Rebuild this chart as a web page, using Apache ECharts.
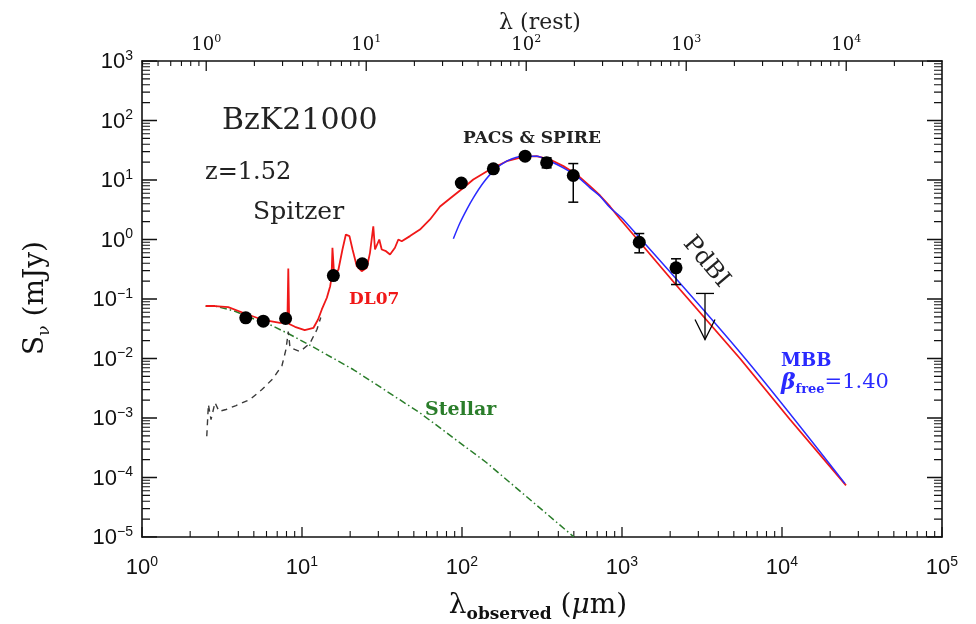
<!DOCTYPE html>
<html>
<head>
<meta charset="utf-8">
<script src="https://cdn.jsdelivr.net/npm/echarts@6/dist/echarts.min.js"></script>
<style>
  html, body { margin: 0; padding: 0; background: #fff; }
  #chart { width: 976px; height: 624px; }
</style>
</head>
<body>
<div id="chart"></div>
<script>
// ---------------- data ----------------
const redshift = 1.52;

// photometry (observed wavelength in micron, flux in mJy)
const photLambda = [4.45, 5.73, 7.9, 15.7, 23.8, 99, 157, 248, 338, 496, 1282, 2176];
const photFlux   = [0.0483, 0.0424, 0.047, 0.248, 0.391, 8.9, 15.4, 25.1, 19.5, 11.9, 0.90, 0.334];

// error bars
const errLambda = [338, 496, 1282, 2176];
const errLow    = [16.0, 4.24, 0.597, 0.175];
const errHigh   = [23.6, 18.9, 1.26, 0.474];

// PdBI upper limit
const limLambda = [3302];
const limFlux   = [0.124];

// DL07 total model (red)
const dl07Lambda = [2.50, 2.86, 3.46, 4.40, 5.60, 7.29, 8.10, 8.21, 8.32, 9.04, 10.4, 11.8, 12.6, 13.3, 14.3, 15.0, 15.3, 15.5, 15.9, 16.9,
  17.9, 18.8, 19.8, 20.7, 22.0, 23.6, 25.4, 26.6, 27.9, 28.6, 30.4, 31.5, 33.5, 35.5, 38.1, 40.0, 42.0, 47.3, 54.6, 63.1,
  72.9, 84.1, 97.2, 117.7, 149.6, 190.3, 241.5, 293, 355, 430, 521, 631, 729, 841, 972, 2304, 5464, 11220, 25120];
const dl07Flux = [0.0762, 0.0762, 0.0728, 0.0571, 0.0452, 0.0398, 0.040, 0.326, 0.038, 0.0341, 0.0299, 0.0328, 0.0452, 0.0667, 0.105, 0.164, 0.230, 0.726, 0.241, 0.313,
  0.679, 1.21, 1.14, 0.679, 0.356, 0.293, 0.334, 0.597, 1.67, 0.679, 1.0, 0.679, 0.636, 0.560, 0.726, 1.0, 0.935, 1.14, 1.47, 2.17,
  3.59, 4.89, 6.66, 10.2, 15.0, 20.7, 24.5, 25.1, 22.1, 17.1, 12.4, 7.87, 5.49, 3.59, 2.21, 0.1445, 0.0100, 0.000944, 0.0000735];

// modified black body (blue)
const mbbLambda = [88.3, 97.2, 107, 117.7, 135.9, 157, 190.3, 241.5, 293, 355, 430, 521, 631, 729, 841, 1019, 5728, 24770];
const mbbFlux   = [1.03, 1.91, 3.19, 5.02, 8.98, 14.1, 20.7, 25.1, 25.1, 20.7, 16.0, 11.6, 7.39, 5.35, 3.45, 2.17, 0.01094, 0.000079];

// stellar component (green dash-dot)
const stellarLambda = [2.50, 2.86, 3.81, 5.09, 6.47, 8.41, 11.5, 20.9, 54.6, 142.6, 501];
const stellarFlux   = [0.0757, 0.0760, 0.0624, 0.0452, 0.0359, 0.0253, 0.0161, 0.00653, 0.00122, 0.000177, 0.00001];

// dust-only component (grey dashed)
const dustLambda = [2.54, 2.60, 2.70, 2.86, 3.03, 3.35, 3.87, 4.73, 5.62, 6.59, 7.50, 7.94, 8.21, 8.41, 9.72, 11.2, 12.4, 13.1];
const dustFlux   = [0.000494, 0.00169, 0.00094, 0.00182, 0.00129, 0.00139, 0.00162, 0.00205, 0.00301, 0.00461, 0.00762, 0.0142, 0.0284, 0.0153, 0.0131, 0.0179, 0.0307, 0.0489];

// axis ticks
const xMajor = [1, 10, 100, 1000, 10000, 100000];
const yMajor = [1e-5, 1e-4, 1e-3, 1e-2, 1e-1, 1, 10, 100, 1000];
const restMajor = [1, 10, 100, 1000, 10000];

// ---------------- helpers ----------------
function minorTicks(loExp, hiExp) {
  const out = [];
  for (let e = loExp; e <= hiExp; e++) {
    for (let k = 2; k <= 9; k++) out.push(parseFloat((k * Math.pow(10, e)).toPrecision(6)));
  }
  return out;
}
const xMin = 1, xMax = 1e5, yMin = 1e-5, yMax = 1e3;
const xMinor = minorTicks(0, 4);
const yMinor = minorTicks(-5, 2);
const opz = 1 + redshift;
const topMajor = restMajor.map(v => v * opz);
const topMinor = minorTicks(-1, 4).map(v => v * opz).filter(v => v > xMin && v < xMax);

function pair(a, b) { return a.map((v, i) => [v, b[i]]); }
function supLabel(exp) {
  const s = exp < 0 ? '\u2212' + Math.abs(exp) : String(exp);
  return '{b|10}{s|' + s + '}';
}

const SANS = "'Liberation Sans', Arial, sans-serif";
const SERIF = "'DejaVu Serif', serif";
const BLACK = '#111';

// grid geometry (pixels) and the resulting pixels per decade, used only to express tick lengths
const GRID = { left: 142, right: 34, top: 61, bottom: 87 };
const pxPerDecX = (976 - GRID.left - GRID.right) / Math.log10(xMax / xMin);
const pxPerDecY = (624 - GRID.top - GRID.bottom) / Math.log10(yMax / yMin);
const TICK = { xMajor: 10, xMinor: 6, topMajor: 10, topMinor: 5, yMajor: 15, yMinor: 8 };

const richSans = {
  b: { fontSize: 22, fontFamily: SANS, color: BLACK, lineHeight: 24, verticalAlign: 'bottom' },
  s: { fontSize: 14, fontFamily: SANS, color: BLACK, lineHeight: 14, verticalAlign: 'top' }
};
const richTop = {
  b: { fontSize: 18, fontFamily: SERIF, color: BLACK, lineHeight: 20, verticalAlign: 'bottom' },
  s: { fontSize: 11, fontFamily: SERIF, color: BLACK, lineHeight: 11, verticalAlign: 'top' }
};

function logAxis(extra) {
  return Object.assign({
    type: 'log', logBase: 10, splitLine: { show: false }, minorTick: { show: false },
    axisTick: { show: false }
  }, extra);
}

const xAxes = [
  logAxis({ position: 'bottom', min: xMin, max: xMax,
    axisLine: { show: true, lineStyle: { color: BLACK, width: 1.6 } },
    axisLabel: { show: true, customValues: xMajor, margin: 18, formatter: v => supLabel(Math.round(Math.log10(v))), rich: richSans }
  }),
  logAxis({ position: 'top', min: xMin, max: xMax,
    axisLine: { show: true, lineStyle: { color: BLACK, width: 1.6 } },
    axisLabel: { show: true, customValues: topMajor, margin: 7, formatter: v => supLabel(Math.round(Math.log10(v / opz))), rich: richTop }
  })
];

const yAxes = [
  logAxis({ position: 'left', min: yMin, max: yMax,
    axisLine: { show: true, lineStyle: { color: BLACK, width: 1.6 } },
    axisLabel: { show: true, customValues: yMajor, margin: 9, formatter: v => supLabel(Math.round(Math.log10(v))), rich: richSans }
  }),
  logAxis({ position: 'right', min: yMin, max: yMax,
    axisLine: { show: true, lineStyle: { color: BLACK, width: 1.6 } },
    axisLabel: { show: false }
  })
];

// ---- tick marks as broken line series in data space (one short segment per tick value) ----
const GAP = ['-', '-'];
function xTickData(values, lenPx, atTop) {
  const f = Math.pow(10, lenPx / pxPerDecY);
  const out = [];
  values.forEach(v => {
    if (atTop) out.push([v, yMax / f], [v, yMax], GAP);
    else out.push([v, yMin], [v, yMin * f], GAP);
  });
  return out;
}
function yTickData(values, lenPx) {
  const f = Math.pow(10, lenPx / pxPerDecX);
  const out = [];
  values.forEach(v => { out.push([xMin, v], [xMin * f, v], GAP, [xMax / f, v], [xMax, v], GAP); });
  return out;
}
function tickLine(name, data, width) {
  return { type: 'line', name: name, xAxisIndex: 0, yAxisIndex: 0, data: data, connectNulls: false,
    showSymbol: false, symbol: 'none', smooth: false, silent: true, animation: false, z: 1,
    lineStyle: { color: BLACK, width: width, type: 'solid' } };
}

const lineBase = { type: 'line', xAxisIndex: 0, yAxisIndex: 0, showSymbol: false, symbol: 'none', smooth: false, silent: true, animation: false };

const series = [
  tickLine('xMajorTicks', xTickData(xMajor, TICK.xMajor, false), 1.3),
  tickLine('xMinorTicks', xTickData(xMinor, TICK.xMinor, false), 1.1),
  tickLine('topMajorTicks', xTickData(topMajor, TICK.topMajor, true), 1.3),
  tickLine('topMinorTicks', xTickData(topMinor, TICK.topMinor, true), 1.1),
  tickLine('yMajorTicks', yTickData(yMajor, TICK.yMajor), 1.3),
  tickLine('yMinorTicks', yTickData(yMinor, TICK.yMinor), 1.1),
  Object.assign({}, lineBase, { name: 'Stellar', data: pair(stellarLambda, stellarFlux), z: 2,
    lineStyle: { color: '#2a7d2a', width: 1.5, type: [7, 3, 1.5, 3] } }),
  Object.assign({}, lineBase, { name: 'Dust', data: pair(dustLambda, dustFlux), z: 2,
    lineStyle: { color: '#3a3a3a', width: 1.4, type: [6, 5] } }),
  Object.assign({}, lineBase, { name: 'DL07', data: pair(dl07Lambda, dl07Flux), z: 3,
    lineStyle: { color: '#f01818', width: 1.8 } }),
  Object.assign({}, lineBase, { name: 'MBB', data: pair(mbbLambda, mbbFlux), z: 4, smooth: 0.3,
    lineStyle: { color: '#2a2aff', width: 1.5 } }),
  { type: 'scatter', name: 'phot', xAxisIndex: 0, yAxisIndex: 0, data: pair(photLambda, photFlux), z: 6,
    symbol: 'circle', symbolSize: 13, itemStyle: { color: '#000', opacity: 1 }, silent: true, animation: false },
  { type: 'custom', name: 'err', xAxisIndex: 0, yAxisIndex: 0, z: 7, silent: true, animation: false,
    data: errLambda.map((l, i) => [l, errLow[i], errHigh[i]]),
    encode: { x: 0, y: [1, 2] },
    renderItem: function (params, api) {
      const lo = api.coord([api.value(0), api.value(1)]);
      const hi = api.coord([api.value(0), api.value(2)]);
      const w = 5;
      const st = { stroke: '#000', lineWidth: 1.5 };
      return { type: 'group', children: [
        { type: 'line', shape: { x1: lo[0], y1: lo[1], x2: hi[0], y2: hi[1] }, style: st },
        { type: 'line', shape: { x1: lo[0] - w, y1: lo[1], x2: lo[0] + w, y2: lo[1] }, style: st },
        { type: 'line', shape: { x1: hi[0] - w, y1: hi[1], x2: hi[0] + w, y2: hi[1] }, style: st }
      ] };
    }
  },
  { type: 'custom', name: 'limit', xAxisIndex: 0, yAxisIndex: 0, z: 7, silent: true, animation: false,
    data: pair(limLambda, limFlux),
    encode: { x: 0, y: 1 },
    renderItem: function (params, api) {
      const p = api.coord([api.value(0), api.value(1)]);
      const len = 46, w = 9, ah = 20, aw = 10;
      const st = { stroke: '#000', lineWidth: 1.3, fill: null };
      return { type: 'group', children: [
        { type: 'line', shape: { x1: p[0] - w, y1: p[1], x2: p[0] + w, y2: p[1] }, style: st },
        { type: 'line', shape: { x1: p[0], y1: p[1], x2: p[0], y2: p[1] + len }, style: st },
        { type: 'polyline', shape: { points: [[p[0] - aw, p[1] + len - ah], [p[0], p[1] + len], [p[0] + aw, p[1] + len - ah]] }, style: st }
      ] };
    }
  }
];

const txt = (x, y, text, size, extra) => ({
  type: 'text', x: x, y: y, z: 100,
  style: Object.assign({ text: text, fontSize: size, fontFamily: SERIF, fill: BLACK, align: 'left', verticalAlign: 'middle' }, extra || {})
});

const graphic = [
  txt(222, 121, 'BzK21000', 30, { fill: '#222' }),
  txt(205, 173, 'z=1.52', 24, { fill: '#222' }),
  txt(253, 212, 'Spitzer', 25, { fill: '#222' }),
  txt(532, 139, 'PACS & SPIRE', 17, { fontWeight: 'bold', align: 'center', fill: '#222' }),
  txt(349, 300, 'DL07', 17, { fontWeight: 'bold', fill: '#f01818' }),
  txt(425, 410, 'Stellar', 19, { fontWeight: 'bold', fill: '#2a7d2a' }),
  Object.assign(txt(706, 262, 'PdBI', 24, { align: 'center', fill: '#222' }), { rotation: -50 * Math.PI / 180 }),
  txt(781, 361, 'MBB', 18, { fontWeight: 'bold', fill: '#2a2aff' }),
  txt(781, 383, '{g|\u03b2}{f|free}{n|=1.40}', 21, { fill: '#2a2aff', rich: {
    g: { fontSize: 22, fontStyle: 'italic', fontWeight: 'bold', fontFamily: SERIF, fill: '#2a2aff', lineHeight: 26, verticalAlign: 'middle' },
    f: { fontSize: 13, fontWeight: 'bold', fontFamily: SERIF, fill: '#2a2aff', lineHeight: 13, verticalAlign: 'bottom' },
    n: { fontSize: 21, fontFamily: SERIF, fill: '#2a2aff', lineHeight: 26, verticalAlign: 'middle' }
  } }),
  txt(540, 23, '\u03bb (rest)', 22, { align: 'center', fill: '#222' }),
  txt(538, 606, '{l|\u03bb}{o|observed}{n| (}{m|\u03bc}{n|m)}', 28, { align: 'center', rich: {
    l: { fontSize: 28, fontFamily: SERIF, fill: BLACK, lineHeight: 34, verticalAlign: 'middle' },
    o: { fontSize: 17, fontWeight: 'bold', fontFamily: SERIF, fill: BLACK, lineHeight: 17, verticalAlign: 'bottom' },
    n: { fontSize: 28, fontFamily: SERIF, fill: BLACK, lineHeight: 34, verticalAlign: 'middle' },
    m: { fontSize: 28, fontStyle: 'italic', fontFamily: SERIF, fill: BLACK, lineHeight: 34, verticalAlign: 'middle' }
  } }),
  Object.assign(txt(36, 298, '{a|S}{v|\u03bd}{a| (mJy)}', 28, { align: 'center', rich: {
    a: { fontSize: 28, fontFamily: SERIF, fill: BLACK, lineHeight: 34, verticalAlign: 'middle' },
    v: { fontSize: 17, fontFamily: SERIF, fill: BLACK, lineHeight: 17, verticalAlign: 'bottom' }
  } }), { rotation: Math.PI / 2 })
];

const chart = echarts.init(document.getElementById('chart'), null, { renderer: 'canvas' });
chart.setOption({
  animation: false,
  backgroundColor: '#fff',
  grid: { left: GRID.left, right: GRID.right, top: GRID.top, bottom: GRID.bottom, containLabel: false },
  xAxis: xAxes,
  yAxis: yAxes,
  series: series,
  graphic: graphic
});
</script>
</body>
</html>
